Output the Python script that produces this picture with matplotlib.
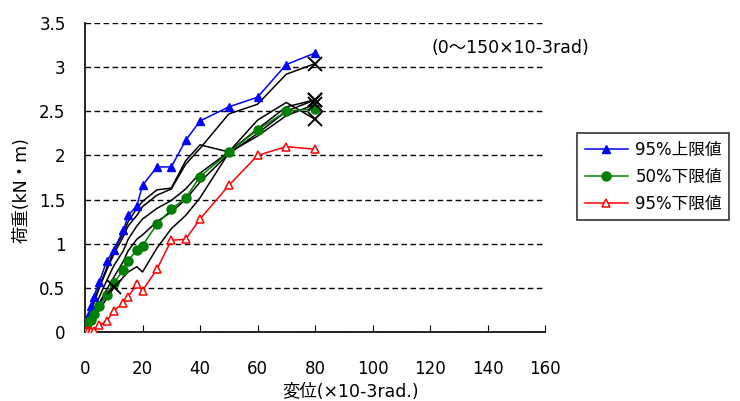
import matplotlib
matplotlib.use("Agg")
import matplotlib.pyplot as plt

plt.rcParams['font.family'] = ['DejaVu Sans', 'Noto Sans CJK JP']

# rotation steps (x10^-3 rad)
disp = [0.3, 1, 2, 3, 5, 7.5, 10, 13.3, 15, 18, 20, 25, 30, 35, 40, 50, 60, 70, 80]

# individual specimens (kN·m)
spec1 = [0, 0.12, 0.22, 0.32, 0.5, 0.7, 0.88, 1.08, 1.2, 1.32, 1.42, 1.55, 1.62, 1.9, 2.08, 2.47, 2.58, 2.92, 3.04]
spec2 = [0, 0.14, 0.25, 0.35, 0.52, 0.72, 0.92, 1.12, 1.25, 1.4, 1.48, 1.61, 1.63, 1.94, 2.12, 2.04, 2.3, 2.55, 2.63]
spec3 = [0, 0.08, 0.16, 0.25, 0.4, 0.58, 0.75, 0.92, 1.05, 1.2, 1.28, 1.4, 1.49, 1.62, 1.8, 2.04, 2.40, 2.60, 2.41]
spec4 = [0, 0.06, 0.12, 0.2, 0.33, 0.48, 0.62, 0.8, 0.92, 1.05, 1.1, 1.25, 1.36, 1.5, 1.7, 2.02, 2.25, 2.5, 2.63]
spec5 = [0, 0.04, 0.1, 0.15, 0.25, 0.38, 0.5, 0.62, 0.68, 0.74, 0.68, 0.95, 1.17, 1.32, 1.52, 2.03, 2.22, 2.45, 2.58]
spec6 = [0, 0.08, 0.15, 0.22, 0.33, 0.44, 0.51]

# statistics
upper95 = [0.14, 0.18, 0.3, 0.4, 0.57, 0.8, 0.93, 1.15, 1.32, 1.43, 1.66, 1.87, 1.87, 2.17, 2.39, 2.55, 2.66, 3.03, 3.16]
lower50 = [0.1, 0.11, 0.14, 0.2, 0.29, 0.42, 0.56, 0.70, 0.81, 0.93, 0.98, 1.22, 1.39, 1.52, 1.76, 2.035, 2.29, 2.50, 2.53]
lower95 = [0.01, 0.01, 0.01, 0.01, 0.08, 0.12, 0.24, 0.33, 0.40, 0.54, 0.47, 0.71, 1.04, 1.05, 1.28, 1.66, 2.0, 2.10, 2.07]

fig = plt.figure(figsize=(7.4, 4.01), dpi=100)
ax = fig.add_axes([0.1149, 0.172, 0.6216, 0.7706])

for ys in [spec1, spec2, spec3, spec4, spec5, spec6]:
    xs = disp[:len(ys)]
    ax.plot(xs, ys, color='black', lw=1.1, zorder=3)
    ax.plot(xs[-1], ys[-1], marker='x', color='black', ms=9.5, mew=1.4, zorder=5)

ax.plot(disp, upper95, color='blue', lw=1.1, marker='^', ms=6, label='95%上限値', zorder=4)
ax.plot(disp, lower50, color='green', lw=1.1, marker='o', ms=6.5, label='50%下限値', zorder=4)
ax.plot(disp, lower95, color='red', lw=1.1, marker='^', ms=6, mfc='white', mew=1.1,
        label='95%下限値', zorder=4)

ax.set_xlim(0, 160)
ax.set_ylim(0, 3.5)
ax.set_xticks(range(0, 161, 20))
ax.set_yticks([0, 0.5, 1, 1.5, 2, 2.5, 3, 3.5])
ax.set_yticklabels(['0', '0.5', '1', '1.5', '2', '2.5', '3', '3.5'])
ax.yaxis.grid(True, color='black', ls=(0, (4, 2.5)), lw=1.0)
ax.set_axisbelow(True)
ax.spines['top'].set_visible(False)
ax.spines['right'].set_visible(False)
ax.spines['left'].set_linewidth(1.2)
ax.spines['bottom'].set_linewidth(1.2)
ax.tick_params(axis='x', direction='in', length=5, labelsize=12, pad=20)
ax.tick_params(axis='y', direction='in', length=0, labelsize=12, pad=14)

ax.set_xlabel('変位(×10-3rad.)', fontsize=12.5)
ax.xaxis.set_label_coords(0.578, -0.165)
ax.set_ylabel('荷重(kN・m)', fontsize=12.5)
ax.yaxis.set_label_coords(-0.118, 0.46)

ax.text(0.754, 0.919, '(0～150×10-3rad)', transform=ax.transAxes, ha='left', va='center',
        fontsize=12.5)

leg = fig.legend(loc='upper left', bbox_to_anchor=(577 / 740, 1 - 133 / 401), borderaxespad=0,
                 fontsize=12, frameon=True, fancybox=False, edgecolor='black', handlelength=2.6,
                 borderpad=0.45, labelspacing=0.55, handletextpad=0.45)
leg.get_frame().set_linewidth(1.2)

fig.savefig('out.png', dpi=100)
